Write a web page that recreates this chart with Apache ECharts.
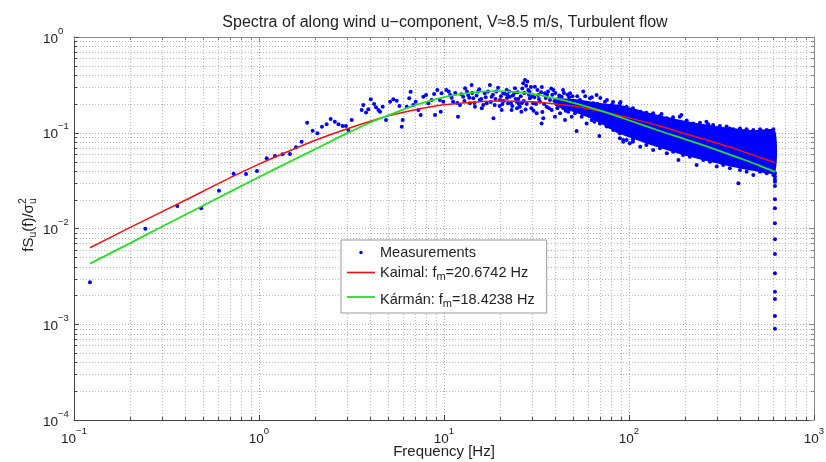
<!DOCTYPE html>
<html><head><meta charset="utf-8">
<script src="https://cdn.jsdelivr.net/npm/echarts@6/dist/echarts.min.js"></script>
<style>html,body{margin:0;padding:0;background:#fff}#c{width:826px;height:462px}</style>
</head><body><div id="c"></div>
<script>
const FONT = '"Liberation Sans", Arial, Helvetica, sans-serif';
const TITLE = 'Spectra of along wind u\u2212component, V\u22488.5 m/s, Turbulent flow';
const X_MIN = 0.1, X_MAX = 1000, Y_MIN = 1e-4, Y_MAX = 1;
const xTickExps = [-1, 0, 1, 2, 3];
const yTickExps = [-4, -3, -2, -1, 0];

// model fits
const fitFreq = [0.122,0.2,0.3,0.5,0.7,1,1.5,2,3,4,5,7,10,15,20,30,40,50,70,100,150,200,300,400,500,615];
const kaimal  = [0.0063,0.0102,0.0150,0.0245,0.034,0.047,0.066,0.083,0.110,0.132,0.150,0.174,0.196,0.210,0.215,0.211,0.200,0.190,0.168,0.143,0.116,0.098,0.078,0.065,0.056,0.049];
const karman  = [0.0043,0.0070,0.0105,0.0174,0.0243,0.0345,0.051,0.067,0.099,0.128,0.152,0.194,0.236,0.266,0.272,0.255,0.228,0.205,0.170,0.135,0.103,0.086,0.066,0.054,0.046,0.039];

// measurements: sparse low-frequency points
const measLow = [[0.122,0.00274],[0.243,0.00995],[0.362,0.0172],[0.487,0.01625],[0.608,0.0248],[0.729,0.0374],[0.851,0.0371],[0.975,0.0398],[1.10,0.054],[1.22,0.0572],[1.34,0.0596],[1.47,0.060],[1.585,0.0705],[1.70,0.0807],[1.82,0.127],[1.95,0.105],[2.07,0.0987],[2.19,0.1157],[2.32,0.1226],[2.44,0.139],[2.57,0.1305],[2.69,0.1226],[2.83,0.1177],[2.95,0.1177],[3.04,0.107],[3.17,0.136],[3.59,0.173],[3.66,0.195],[3.79,0.163],[3.90,0.176],[4.02,0.2235],[4.19,0.20],[4.29,0.1845],[4.42,0.173],[4.51,0.166],[4.66,0.187],[4.86,0.136],[5.11,0.211],[5.32,0.2235],[5.55,0.216],[5.74,0.19],[5.91,0.1157],[5.98,0.136],[6.29,0.187],[6.49,0.229],[6.6,0.268],[6.83,0.195],[7.03,0.211],[7.27,0.173],[7.48,0.153],[7.73,0.238],[8.0,0.248],[8.23,0.203],[8.58,0.22],[8.84,0.254],[8.94,0.153],[9.2,0.28],[9.5,0.22],[9.6,0.166]];
// measurements: mid-frequency cloud
const measMid = [[9.70,0.258],[9.91,0.211],[10.3,0.280],[10.8,0.248],[11.2,0.211],[11.9,0.147],[12.2,0.195],[12.7,0.238],[13.0,0.291],[13.5,0.248],[13.8,0.203],[14.1,0.315],[14.4,0.229],[14.7,0.187],[15.3,0.269],[15.6,0.220],[16.0,0.180],[16.6,0.258],[17.0,0.203],[17.7,0.315],[18.1,0.238],[18.5,0.1415],[18.8,0.195],[19.2,0.269],[20.1,0.220],[20.5,0.173],[20.9,0.258],[21.8,0.280],[22.2,0.203],[22.7,0.238],[23.2,0.173],[24.2,0.291],[24.7,0.211],[25.7,0.187],[26.2,0.166],[26.8,0.328],[27.4,0.356],[28.2,0.342],[28.5,0.280],[29.1,0.229],[29.7,0.180],[30.3,0.203],[31.0,0.303],[31.7,0.160],[32.3,0.248],[33.0,0.211],[33.7,0.125],[34.4,0.1415],[35.1,0.258],[35.9,0.187],[37.4,0.220],[38.2,0.173],[39.0,0.280],[39.8,0.147],[40.6,0.203],[42.4,0.160],[43.3,0.238],[44.2,0.180],[45.1,0.136],[46.0,0.211],[47.0,0.166],[48.0,0.258],[49.0,0.147],[50.0,0.195],[52.1,0.104],[53.2,0.173],[54.3,0.220],[55.5,0.147],[56.6,0.269],[57.8,0.187],[59.0,0.125],[60.3,0.166],[61.5,0.229],[62.8,0.136],[64.1,0.203],[65.5,0.153],[66.8,0.248],[69.1,0.0925],[69.6,0.125],[71.1,0.180],[72.6,0.147],[74.1,0.211],[75.7,0.116],[77.2,0.166],[78.8,0.136],[80.5,0.195],[82.2,0.107],[83.9,0.153],[85.7,0.125],[87.5,0.180],[89.3,0.0987],[91.2,0.1415],[93.1,0.084],[95.1,0.166],[97.1,0.116],[99.1,0.136],[101,0.0948],[103,0.153],[105,0.0807],[108,0.125],[110,0.107],[112,0.1415],[115,0.091]];
const measMid2 = [[10.6,0.27],[11.0,0.232],[11.5,0.26],[11.8,0.205],[12.4,0.252],[12.9,0.215],[13.3,0.27],[13.7,0.232],[14.2,0.26],[14.6,0.205],[15.0,0.245],[15.5,0.285],[15.9,0.225],[16.3,0.195],[16.8,0.235],[17.3,0.27],[17.9,0.21],[18.4,0.25],[19.0,0.225],[19.6,0.295],[20.3,0.24],[20.7,0.2],[21.3,0.255],[21.9,0.23],[22.5,0.27],[23.0,0.205],[23.6,0.245],[24.4,0.225],[25.0,0.265],[25.4,0.2],[26.0,0.24],[26.5,0.29],[27.0,0.215],[27.8,0.31],[28.8,0.25],[29.5,0.3],[30.8,0.235],[32.0,0.28],[33.5,0.265],[35.5,0.23],[36.5,0.27],[38.5,0.25],[41.5,0.225],[44.5,0.26],[47.5,0.235]];
const measMid3 = [[20.0,0.19],[21.0,0.215],[22.0,0.25],[23.4,0.19],[24.0,0.26],[25.2,0.225],[26.4,0.205],[27.2,0.26],[28.0,0.2],[29.0,0.27],[30.0,0.24],[31.4,0.2],[32.6,0.225],[33.8,0.3],[34.8,0.2],[36.0,0.25],[37.0,0.18],[38.0,0.29],[39.5,0.215],[40.0,0.26],[41.0,0.18],[42.0,0.245],[43.0,0.2],[44.0,0.28],[45.5,0.17],[46.5,0.25],[48.5,0.19],[49.5,0.24],[51.0,0.16],[52.5,0.24],[54.0,0.19],[56.0,0.16],[58.0,0.24],[59.5,0.2],[61.0,0.15],[63.0,0.235],[65.0,0.13],[67.5,0.2],[70.0,0.23],[73.0,0.13],[76.0,0.22],[79.0,0.115],[82.0,0.21],[86.0,0.105],[90.0,0.21],[95.0,0.1],[30.5,0.17],[27.6,0.175],[34.0,0.165],[24.8,0.18]];
// measurements: jagged edges of the dense high-frequency band
const measEdgeUpper = [[89.3,0.203],[97.1,0.187],[105,0.180],[115,0.166],[124,0.162],[135,0.160],[147,0.150],[150,0.157],[160,0.1415],[173,0.145],[188,0.147],[192,0.153],[205,0.134],[222,0.125],[242,0.127],[262,0.1305],[268,0.123],[285,0.1205],[310,0.1175],[337,0.116],[351,0.111],[366,0.1085],[398,0.111],[432,0.1085],[470,0.107],[511,0.1085],[555,0.107],[603,0.1085]];
const measEdgeLower = [[89.3,0.0875],[93.1,0.0807],[97.1,0.084],[101,0.0775],[105,0.0853],[115,0.0716],[124,0.0745],[135,0.0661],[147,0.0688],[160,0.061],[173,0.0634],[185,0.0519],[196,0.0586],[213,0.0562],[232,0.046],[252,0.0519],[274,0.0499],[298,0.0443],[323,0.046],[351,0.0425],[390,0.0296],[398,0.0408],[432,0.0392],[470,0.0362],[511,0.0392],[555,0.0377],[603,0.0362],[615,0.0377]];
// measurements: last frequency bin column
const measTail = [[615,0.035],[615,0.0325],[615,0.0308],[615,0.0278],[615,0.0202],[615,0.01625],[615,0.01133],[615,0.0077],[615,0.00542],[615,0.0034],[615,0.00219],[615,0.00184],[615,0.00122],[615,0.0009]];
// dense solid core of the measurement cloud (envelope)
const bandFreq  = [40,50,60,70,90,135,205,310,470,615];
const bandUpper = [0.225,0.225,0.215,0.205,0.195,0.158,0.132,0.116,0.106,0.106];
const bandLower = [0.19,0.165,0.145,0.125,0.097,0.073,0.057,0.047,0.040,0.038];

const minorX = [], minorY = [];
for (let d = -1; d <= 2; d++) for (let k = 2; k <= 9; k++) minorX.push(k * Math.pow(10, d));
for (let d = -4; d <= -1; d++) for (let k = 2; k <= 9; k++) minorY.push(k * Math.pow(10, d));

const measAll = measLow.concat(measMid, measMid2, measMid3, measEdgeUpper, measEdgeLower, measTail);
const zip = (a, b) => a.map((v, i) => [v, b[i]]);

function expLabel(v) {
  const e = Math.round(Math.log10(v));
  return '{b|10}{p|' + (e < 0 ? '\u2212' + (-e) : String(e)) + '}';
}
const labelRich = {
  b: {fontSize: 13.5, fontFamily: FONT, color: '#222', lineHeight: 16, padding: [4, 0, 0, 0]},
  p: {fontSize: 9.5, fontFamily: FONT, color: '#222', lineHeight: 10, padding: [0, 0, 12, 0]}
};

const ctx = document.createElement('canvas').getContext('2d');
function tw(t, s) { ctx.font = s + 'px ' + FONT; return ctx.measureText(t).width; }
const yl1 = 'fS', yl2 = '(f)/\u03c3';
const MS = 15, SS = 10.5;
const W = tw(yl1, MS) + tw('u', SS) + tw(yl2, MS) + tw('u', SS);
let x0 = -W / 2;
const ylChildren = [];
function addT(t, s, x, y) {
  ylChildren.push({type: 'text', x: x, y: y, style: {text: t, fontSize: s, fontFamily: FONT, fill: '#222', align: 'left', verticalAlign: 'middle'}});
}
addT(yl1, MS, x0, 0); x0 += tw(yl1, MS);
addT('u', SS, x0, 4); x0 += tw('u', SS);
addT(yl2, MS, x0, 0); x0 += tw(yl2, MS);
addT('u', SS, x0, 4); addT('2', SS, x0, -6);

const chart = echarts.init(document.getElementById('c'), null, {renderer: 'canvas'});
chart.setOption({
  animation: false,
  backgroundColor: '#fff',
  textStyle: {fontFamily: FONT},
  title: {text: TITLE, left: 440, top: 10, textAlign: 'center',
    textStyle: {fontSize: 16, fontWeight: 'normal', color: '#222', fontFamily: FONT}},
  grid: {left: 74, right: 12, top: 37, bottom: 42, containLabel: false, outerBoundsMode: 'none'},
  graphic: [{type: 'group', x: 29, y: 225, rotation: Math.PI / 2, children: ylChildren}],
  legend: {
    orient: 'vertical', left: 341, top: 240, padding: [5, 12, 4, 6], itemGap: 3,
    itemWidth: 28, itemHeight: 14, borderColor: '#999', borderWidth: 1, backgroundColor: '#fff',
    selectedMode: false,
    data: [
      {name: 'Measurements', icon: 'path://M0,0M28,14M15.7,7A1.7,1.7,0,1,1,12.3,7A1.7,1.7,0,1,1,15.7,7Z'},
      {name: 'Kaimal', icon: 'path://M0,0M28,14M0,6.2H28V7.8H0Z'},
      {name: 'Kármán', icon: 'path://M0,0M28,14M0,6.1H28V7.9H0Z'}
    ],
    formatter: function (name) {
      if (name === 'Kaimal') return '{a|Kaimal: f}{s|m}{a|=20.6742 Hz}';
      if (name === 'Kármán') return '{k|Kármán: f}{sk|m}{k|=18.4238 Hz}';
      return '{a|Measurements}';
    },
    textStyle: {rich: {
      a: {fontSize: 14.5, fontFamily: FONT, color: '#222', lineHeight: 16},
      s: {fontSize: 11, fontFamily: FONT, color: '#222', lineHeight: 10, padding: [8, 0, 0, 0]},
      k: {fontSize: 14.5, fontFamily: FONT, color: '#222', lineHeight: 16, padding: [5, 0, 0, 0]},
      sk: {fontSize: 11, fontFamily: FONT, color: '#222', lineHeight: 10, padding: [13, 0, 0, 0]}
    }}
  },
  xAxis: [{
    type: 'log', logBase: 10, min: X_MIN, max: X_MAX, splitNumber: 4, position: 'bottom',
    axisLine: {show: true, lineStyle: {color: '#444'}},
    axisTick: {show: true, inside: true, length: 5, lineStyle: {color: '#444'}},
    axisLabel: {formatter: expLabel, margin: 9, rich: labelRich},
    splitLine: {show: true, lineStyle: {color: '#aaa', type: [1, 2]}},
    name: 'Frequency [Hz]', nameLocation: 'middle', nameGap: 24, nameMoveOverlap: false,
    nameTextStyle: {fontSize: 15, color: '#222', fontFamily: FONT}
  }, {
    type: 'log', logBase: 10, min: X_MIN, max: X_MAX, splitNumber: 4, position: 'top',
    axisLine: {show: true, lineStyle: {color: '#888'}},
    axisTick: {show: true, inside: true, length: 5, lineStyle: {color: '#888'}},
    axisLabel: {show: false}, splitLine: {show: false}
  }],
  yAxis: [{
    type: 'log', logBase: 10, min: Y_MIN, max: Y_MAX, splitNumber: 4, position: 'left',
    axisLine: {show: true, lineStyle: {color: '#444'}},
    axisTick: {show: true, inside: true, length: 5, lineStyle: {color: '#444'}},
    axisLabel: {formatter: expLabel, align: 'left', margin: 31, rich: labelRich},
    splitLine: {show: true, lineStyle: {color: '#aaa', type: [1, 2]}}
  }, {
    type: 'log', logBase: 10, min: Y_MIN, max: Y_MAX, splitNumber: 4, position: 'right',
    axisLine: {show: true, lineStyle: {color: '#888'}},
    axisTick: {show: true, inside: true, length: 5, lineStyle: {color: '#888'}},
    axisLabel: {show: false}, splitLine: {show: false}
  }],
  series: [{
    type: 'custom', name: 'minorGrid', silent: true, z: 1,
    data: [[1, 0.01]],
    renderItem: function (params, api) {
      if (params.dataIndex !== 0) return;
      const ch = [];
      const gs = {stroke: '#b8b8b8', lineWidth: 1, lineDash: [1, 2]};
      minorX.forEach(function (v) {
        const a = api.coord([v, Y_MIN]), b = api.coord([v, Y_MAX]);
        const x = Math.round(a[0]) + 0.5;
        ch.push({type: 'line', shape: {x1: x, y1: a[1], x2: x, y2: b[1]}, style: gs});
        ch.push({type: 'line', shape: {x1: x, y1: a[1], x2: x, y2: a[1] - 3}, style: {stroke: '#444', lineWidth: 1}});
        ch.push({type: 'line', shape: {x1: x, y1: b[1], x2: x, y2: b[1] + 3}, style: {stroke: '#888', lineWidth: 1}});
      });
      minorY.forEach(function (v) {
        const a = api.coord([X_MIN, v]), b = api.coord([X_MAX, v]);
        const y = Math.round(a[1]) + 0.5;
        ch.push({type: 'line', shape: {x1: a[0], y1: y, x2: b[0], y2: y}, style: gs});
        ch.push({type: 'line', shape: {x1: a[0], y1: y, x2: a[0] + 3, y2: y}, style: {stroke: '#444', lineWidth: 1}});
        ch.push({type: 'line', shape: {x1: b[0], y1: y, x2: b[0] - 3, y2: y}, style: {stroke: '#888', lineWidth: 1}});
      });
      return {type: 'group', children: ch};
    }
  }, {
    type: 'custom', name: 'measBand', silent: true, z: 2,
    data: zip(bandFreq, bandLower),
    renderItem: function (params, api) {
      if (params.dataIndex !== 0) return;
      const pts = [];
      for (let i = 0; i < bandFreq.length; i++) pts.push(api.coord([bandFreq[i], bandUpper[i]]));
      for (let i = bandFreq.length - 1; i >= 0; i--) pts.push(api.coord([bandFreq[i], bandLower[i]]));
      return {type: 'polygon', shape: {points: pts, smooth: 0.2}, style: {fill: '#0000ff'}};
    }
  }, {
    type: 'scatter', name: 'Measurements', data: measAll, symbol: 'circle', symbolSize: 4,
    itemStyle: {color: '#0000ff', opacity: 1}, z: 3, silent: true
  }, {
    type: 'line', name: 'Kaimal', data: zip(fitFreq, kaimal), symbol: 'none', smooth: 0.3,
    lineStyle: {color: '#f01010', width: 1.5}, itemStyle: {color: '#f01010'}, z: 4, silent: true
  }, {
    type: 'line', name: 'Kármán', data: zip(fitFreq, karman), symbol: 'none', smooth: 0.3,
    lineStyle: {color: '#22e022', width: 1.8}, itemStyle: {color: '#22e022'}, z: 5, silent: true
  }]
});
</script></body></html>
